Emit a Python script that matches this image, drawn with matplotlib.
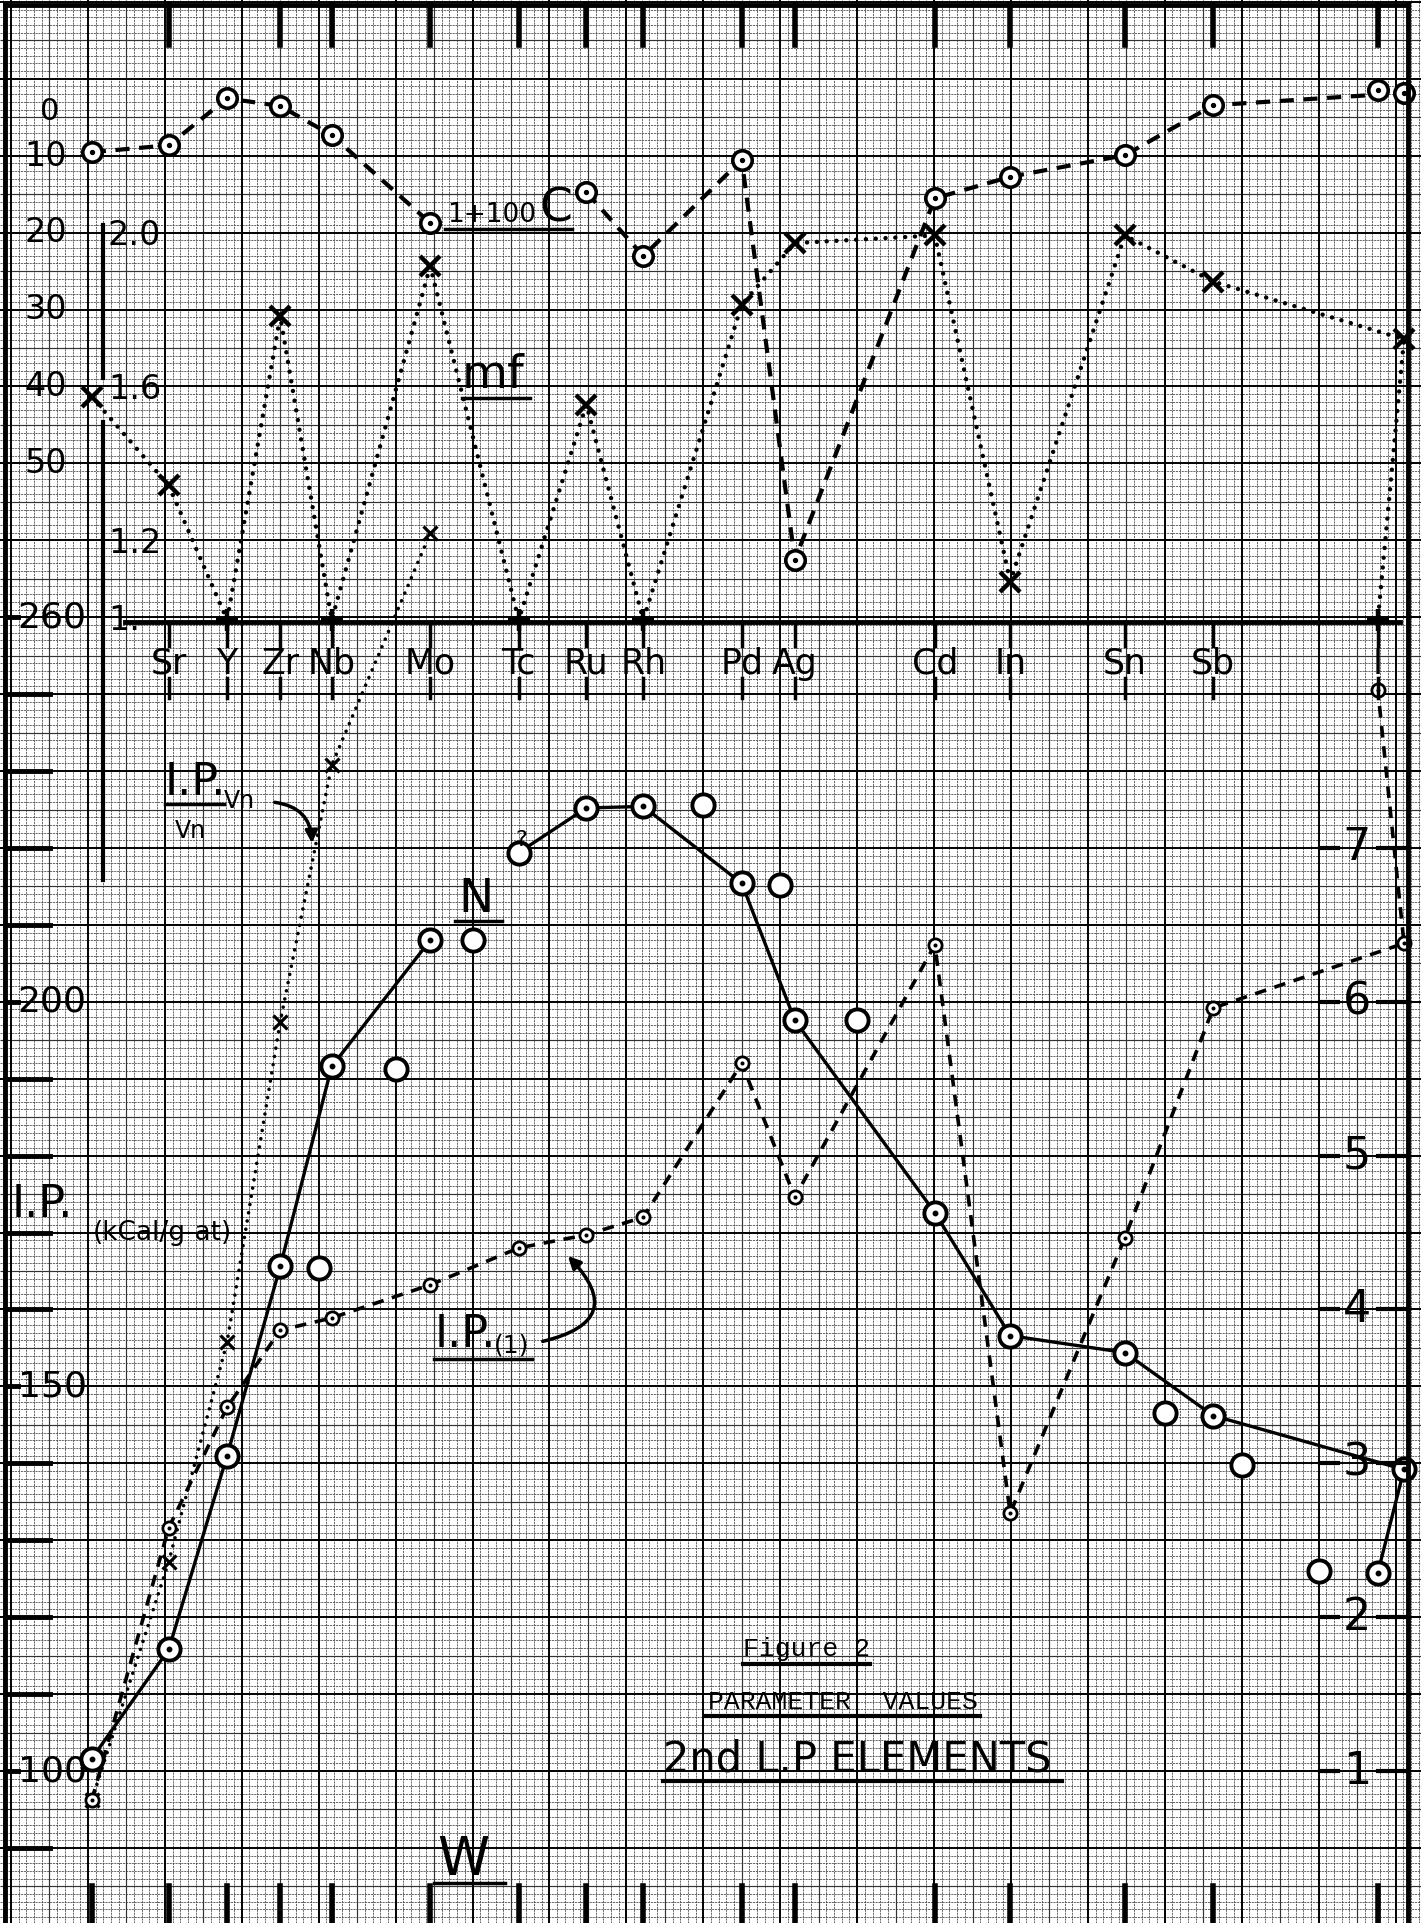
import numpy as np
import matplotlib
matplotlib.use("Agg")
import matplotlib.pyplot as plt
from matplotlib.patches import FancyArrowPatch
from matplotlib.transforms import blended_transform_factory as blend

W, H = 1421, 1923
SQ = H / 250.0  # one small square of the graph paper, in pixels

# ---- values ----
elements = ["Rb", "Sr", "Y", "Zr", "Nb", "Mo", "Tc", "Ru", "Rh",
            "Pd", "Ag", "Cd", "In", "Sn", "Sb", "Te", "I"]
# column where each element was drawn, in small squares of the paper
element_x = [10.5, 20.5, 28.1, 35.0, 41.7, 54.5, 66.0, 74.8, 82.2,
             95.0, 101.9, 120.1, 129.9, 144.8, 156.3, 181.1, 177.7]
labelled = ["Sr", "Y", "Zr", "Nb", "Mo", "Tc", "Ru", "Rh", "Pd", "Ag",
            "Cd", "In", "Sn", "Sb", "I"]
top_marked = [e for e in labelled if e != "Y"]
bottom_marked = ["Rb"] + labelled

# 1+100C, scale runs downward from 0 at the top; Tc not plotted
c100 = [9.5, 8.6, 2.5, 3.5, 7.3, 18.7, np.nan, 14.7, 23.0,
        10.5, 62.5, 15.5, 12.7, 9.9, 3.4, 1.8, 1.4]
# mf
mf = [1.58, 1.35, 1.0, 1.79, 1.0, 1.92, 1.0, 1.56, 1.0,
      1.82, 1.98, 2.0, 1.10, 2.0, 1.88, 1.73, 1.0]
# I.P./Vn in kcal, only drawn Rb..Mo
ip_vn = [96.2, 127.2, 155.8, 197.4, 230.8, 260.9] + [np.nan] * 11
# I.P.(1) in kcal/g-atom
ip1 = [96.2, 131.6, 147.3, 157.3, 158.9, 163.2, 168.0, 169.7, 172.0,
       192.0, 174.6, 207.4, 133.5, 169.3, 199.2, 207.6, 240.5]
# N, read on the right hand scale
n_val = [1.08, 1.79, 3.05, 4.28, 5.58, 6.40, 6.97, 7.26, 7.27,
         6.77, 5.88, 4.63, 3.83, 3.72, 3.31, 2.96, 2.29]
n_uncertain = ["Tc"]
# the loose open circles next to the N curve
n_alt_x = [40, 50, 60, 90, 100, 110, 150, 160, 170]
n_alt = [4.27, 5.56, 6.40, 7.28, 6.76, 5.88, 3.33, 2.99, 2.30]

ip_ticks = list(range(90, 251, 10))
ip_ticklabels = {100: "100", 150: "150", 200: "200", 250: "260"}
c_ticklabels = [10, 20, 30, 40, 50]
mf_ticklabels = {2.0: "2.0", 1.6: "1.6", 1.2: "1.2", 1.0: "1."}
r_ticklabels = [1, 2, 3, 4, 5, 6, 7]

# ---- scales, all lined up on the same sheet ----
IP_LO = 100 - (H - 1771) / SQ
IP_HI = IP_LO + 250
IP_MF1 = 100 + (1771 - 620) / SQ        # where mf = 1
C_ZERO = 100 + (1771 - 79.1) / SQ       # where 1+100C = 0

fig = plt.figure(figsize=(W / 100, H / 100), dpi=100)
fig.patch.set_facecolor("white")
ax = fig.add_axes([0, 0, 1, 1])
ax.set_xlim(-11 / SQ, (W - 11) / SQ)
ax.set_ylim(IP_LO, IP_HI)

ax_r = ax.twinx()
ax_r.set_ylim(1 + (IP_LO - 100) / 20, 1 + (IP_HI - 100) / 20)
ax_mf = ax.twinx()
ax_mf.set_ylim(1 + (IP_LO - IP_MF1) / 50, 1 + (IP_HI - IP_MF1) / 50)
ax_c = ax.twinx()
ax_c.set_ylim(C_ZERO - IP_LO, C_ZERO - IP_HI)

ov = fig.add_axes([0, 0, 1, 1])
ov.set_xlim(0, W)
ov.set_ylim(H, 0)
for a in (ax, ax_r, ax_mf, ax_c, ov):
    a.axis("off")

# ---- graph paper ----
gx = np.arange(-1, 184)
gy = np.arange(81, 331)
paper = [("minor", "0.3", 0.6, (0, (2.5, 1.0))),
         ("mid", "0.2", 0.85, "solid"),
         ("major", "k", 1.4, "solid")]


def grid_sel(g, kind):
    if kind == "minor":
        return (g % 5) != 0
    if kind == "mid":
        return ((g % 5) == 0) & ((g % 10) != 0)
    return (g % 10) == 0


for kind, col, lw, ls in paper:
    ax.vlines(gx[grid_sel(gx, kind)], IP_LO, IP_HI, colors=col, lw=lw,
              linestyles=ls, zorder=0)
    ax.hlines(gy[grid_sel(gy, kind)], ax.get_xlim()[0], ax.get_xlim()[1],
              colors=col, lw=lw, linestyles=ls, zorder=0)

# border of the drawing
ov.plot([5, 5], [5, H], "k", lw=3.5)
ov.plot([5, 1408], [5, 5], "k", lw=3.5)
ov.plot([1408, 1408], [5, H], "k", lw=3.5)

ex = dict(zip(elements, element_x))
xb = blend(ax.transData, ov.transData)

# element axis
ov.plot([125, 1400], [622, 622], "k", lw=3.5)
for e in labelled:
    ov.plot([ex[e], ex[e]], [622, 646], "k", lw=2.5, transform=xb)
    ov.plot([ex[e], ex[e]], [678, 698], "k", lw=2.5, transform=xb)
    ov.text(ex[e], 664, e, transform=xb, ha="center", va="center", fontsize=25)
for e in top_marked:
    ov.plot([ex[e], ex[e]], [5, 45], "k", lw=4, transform=xb)
for e in bottom_marked:
    ov.plot([ex[e], ex[e]], [1886, H], "k", lw=4, transform=xb)

# left scales
lb = blend(ov.transData, ax.transData)
for v in ip_ticks:
    end = 18 if v in ip_ticklabels else 50
    ov.plot([5, end], [v, v], "k", lw=3.5, transform=lb)
for v, s in ip_ticklabels.items():
    ov.text(52, v, s, transform=lb, ha="center", va="center", fontsize=26)
cb = blend(ov.transData, ax_c.transData)
for v in c_ticklabels:
    ov.text(46, v, str(v), transform=cb, ha="center", va="center", fontsize=24)
ov.text(50, 112, "0", ha="center", va="center", fontsize=22)
mb = blend(ov.transData, ax_mf.transData)
for v, s in mf_ticklabels.items():
    ov.text(108, v, s, transform=mb, ha="left", va="center", fontsize=24)
ov.plot([103, 103], [225, 378], "k", lw=3)
ov.plot([103, 103], [422, 880], "k", lw=3)

# right scale
rb = blend(ov.transData, ax_r.transData)
for v in r_ticklabels:
    ov.plot([1320, 1338], [v, v], "k", lw=3, transform=rb)
    ov.plot([1378, 1408], [v, v], "k", lw=3, transform=rb)
    ov.text(1357, v, str(v), transform=rb, ha="center", va="center", fontsize=32)


def rings(axis, xs, ys, size, width, dot=True, z=5):
    axis.plot(xs, ys, "o", ls="none", ms=size, mfc="white", mec="k", mew=width, zorder=z)
    if dot:
        axis.plot(xs, ys, "o", ls="none", ms=size * 0.2, color="k", zorder=z + 1)


# ---- 1+100C ----
ax_c.plot(element_x, c100, color="k", lw=3, dashes=(3.4, 2.3), zorder=3)
ok = ~np.isnan(c100)
rings(ax_c, np.array(element_x)[ok], np.array(c100)[ok], 14, 2.6)

# ---- mf ----
ax_mf.plot(element_x, mf, color="k", lw=3.2, linestyle=(0, (0.01, 2.2)),
           dash_capstyle="round", zorder=3)
on_axis = np.isclose(mf, 1.0)
ax_mf.plot(np.array(element_x)[~on_axis], np.array(mf)[~on_axis], "x", ls="none",
           ms=14, mew=3.2, color="k", zorder=5)
ax_mf.plot(np.array(element_x)[on_axis], np.array(mf)[on_axis], "+", ls="none",
           ms=16, mew=3.2, color="k", zorder=5)

# ---- I.P./Vn ----
ax.plot(element_x, ip_vn, color="k", lw=2.6, linestyle=(0, (0.01, 2.3)),
        dash_capstyle="round", zorder=3)
ax.plot(element_x, ip_vn, "x", ls="none", ms=10, mew=2.3, color="k", zorder=5)

# ---- I.P.(1) ----
ax.plot(element_x, ip1, color="k", lw=2.6, dashes=(3.2, 2.4), zorder=3)
rings(ax, element_x, ip1, 9.5, 2.0)

# ---- N ----
brk = elements.index("Tc")
ax_r.plot(element_x[:brk], n_val[:brk], color="k", lw=2.4, zorder=3)
ax_r.plot(element_x[brk:], n_val[brk:], color="k", lw=2.4, zorder=3)
sure = np.array([e not in n_uncertain for e in elements])
rings(ax_r, np.array(element_x)[sure], np.array(n_val)[sure], 16, 2.8)
rings(ax_r, np.array(element_x)[~sure], np.array(n_val)[~sure], 16, 2.8, dot=False)
rings(ax_r, n_alt_x, n_alt, 16, 2.8, dot=False)


# ---- hand lettering ----
def uline(x0, x1, y, lw=2.5):
    ov.plot([x0, x1], [y, y], "k", lw=lw)


ov.text(447, 222, "1+100", fontsize=19, va="baseline")
ov.text(539, 222, "C", fontsize=34, va="baseline")
uline(445, 572, 229)

ov.text(462, 388, "mf", fontsize=34, va="baseline")
uline(462, 530, 398)

ov.text(458, 912, "N", fontsize=34, va="baseline")
uline(455, 502, 921)

ov.text(437, 1875, "W", fontsize=38, va="baseline")
uline(434, 505, 1883)

ov.text(165, 795, "I.P.", fontsize=32, va="baseline")
ov.text(224, 808, "Vn", fontsize=17, va="baseline")
uline(165, 224, 804)
ov.text(175, 838, "Vn", fontsize=17, va="baseline")
ov.add_patch(FancyArrowPatch((272, 802), (312, 846), connectionstyle="arc3,rad=-0.45",
                             arrowstyle="-|>", mutation_scale=18, lw=2.5, color="k"))

ov.text(12, 1217, "I.P.", fontsize=32, va="baseline")
ov.text(93, 1240, "(kCal/g-at)", fontsize=19, va="baseline")

ov.text(435, 1347, "I.P.", fontsize=32, va="baseline")
ov.text(494, 1352, "(1)", fontsize=18, va="baseline")
uline(434, 532, 1359)
ov.add_patch(FancyArrowPatch((540, 1342), (566, 1254), connectionstyle="arc3,rad=0.9",
                             arrowstyle="-|>", mutation_scale=18, lw=2.5, color="k"))

ov.text(521, 840, "?", fontsize=16, ha="center", va="center")

ov.text(743, 1656, "Figure 2", fontsize=19, family="Liberation Mono", va="baseline")
uline(743, 870, 1664, 3)
ov.text(708, 1709, "PARAMETER  VALUES", fontsize=19, family="Liberation Mono",
        va="baseline")
uline(705, 980, 1716, 3)
ov.text(663, 1772, "2nd L.P ELEMENTS", fontsize=30, va="baseline")
uline(663, 1062, 1781, 3)

fig.savefig("out.png", dpi=100)
